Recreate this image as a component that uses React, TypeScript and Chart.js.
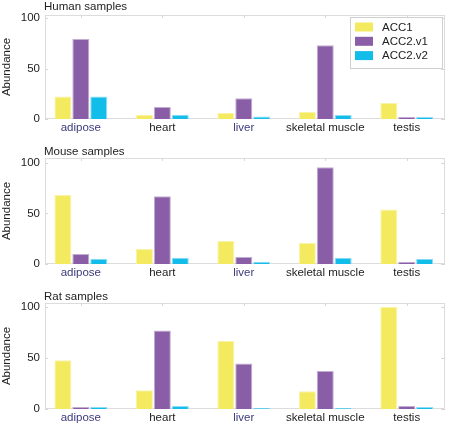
import React, { useEffect, useRef } from "react";
import { Chart, registerables } from "chart.js";
Chart.register(...registerables);

const categories = ["adipose", "heart", "liver", "skeletal muscle", "testis"];
const highlightedCategories = ["adipose", "liver"];
const seriesNames = ["ACC1", "ACC2.v1", "ACC2.v2"];
const seriesColors = ["#f4ea5f", "#8a5ea6", "#12bde9"];
const seriesEdges = ["#f9f3a8", "#c2aed2", "#8fdcf4"];
const yTickValues = [0, 50, 100];

const humanACC1 = [22.4, 4.3, 6.0, 7.0, 15.8];
const humanACC2v1 = [79.5, 11.9, 20.5, 73.3, 2.0];
const humanACC2v2 = [22.4, 4.3, 2.6, 4.0, 2.0];

const mouseACC1 = [68.2, 14.8, 22.6, 20.7, 53.8];
const mouseACC2v1 = [9.8, 66.9, 6.9, 95.4, 2.3];
const mouseACC2v2 = [5.2, 6.2, 2.3, 6.2, 5.2];

const ratACC1 = [47.9, 18.4, 66.6, 17.4, 100];
const ratACC2v1 = [2.0, 77.0, 44.6, 37.4, 3.0];
const ratACC2v2 = [2.0, 3.0, 1.0, 1.0, 2.0];

const FONT = "'Liberation Sans', Arial, sans-serif";
const TEXT = "#222222";
const HILITE = "#3d3a7c";

type PanelProps = {
  title: string;
  series: number[][];
  top: number;
  height: number;
  padTop: number;
  xAxisHeight: number;
  yMax: number;
  showLegend: boolean;
};

function Panel({ title, series, top, height, padTop, xAxisHeight, yMax, showLegend }: PanelProps) {
  const ref = useRef<HTMLCanvasElement | null>(null);
  useEffect(() => {
    if (!ref.current) return;
    const framePlugin = {
      id: "frame",
      beforeDatasetsDraw(chart: any) {
        const { ctx, chartArea: a } = chart;
        ctx.save();
        ctx.strokeStyle = "#dcdcdc";
        ctx.lineWidth = 1;
        ctx.strokeRect(Math.round(a.left) + 0.5, Math.round(a.top) + 0.5, Math.round(a.right - a.left) - 1, Math.round(a.bottom - a.top) - 1);
        const ys = chart.scales.y;
        const xs = chart.scales.x;
        ctx.strokeStyle = "#d6d6d6";
        ctx.beginPath();
        yTickValues.forEach((v) => {
          const py = Math.round(ys.getPixelForValue(v)) + 0.5;
          ctx.moveTo(a.left, py);
          ctx.lineTo(a.left + 3, py);
          ctx.moveTo(a.right, py);
          ctx.lineTo(a.right - 4, py);
        });
        categories.forEach((_, i) => {
          const px = Math.round(xs.getPixelForValue(i + 1)) + 0.5;
          ctx.moveTo(px, a.top);
          ctx.lineTo(px, a.top + 3);
        });
        ctx.stroke();
        ctx.restore();
      },
      afterDraw(chart: any) {
        const { ctx, chartArea: a } = chart;
        ctx.save();
        ctx.fillStyle = TEXT;
        ctx.font = `11.5px ${FONT}`;
        ctx.textBaseline = "alphabetic";
        ctx.textAlign = "left";
        ctx.fillText(title, a.left - 1, 10);
        if (showLegend) {
          const bx = 350.5, by = 17.5, bw = 92, bh = 51;
          ctx.fillStyle = "#ffffff";
          ctx.fillRect(bx, by, bw, bh);
          ctx.strokeStyle = "#cfcfcf";
          ctx.strokeRect(bx, by, bw, bh);
          seriesNames.forEach((name, i) => {
            const cy = by + 9.5 + i * 14.3;
            ctx.fillStyle = seriesColors[i];
            ctx.fillRect(355, cy - 4.5, 18, 9);
            ctx.fillStyle = TEXT;
            ctx.textBaseline = "middle";
            ctx.fillText(name, 382, cy + 0.5);
          });
        }
        ctx.restore();
      },
    };
    const chart = new Chart(ref.current, {
      type: "bar",
      data: {
        datasets: series.map((vals, si) => ({
          label: seriesNames[si],
          data: vals.map((v, i) => ({ x: i + 1, y: v })),
          backgroundColor: seriesColors[si],
          borderColor: seriesEdges[si],
          borderWidth: { top: 1, left: 1, right: 1, bottom: 0 },
          categoryPercentage: 0.66,
          barPercentage: 0.95,
        })),
      },
      options: {
        animation: false,
        responsive: false,
        devicePixelRatio: 1,
        layout: { padding: { top: padTop, left: 0, right: 4, bottom: 0 } },
        plugins: { legend: { display: false }, tooltip: { enabled: false }, title: { display: false } },
        scales: {
          x: {
            type: "linear",
            min: 0.56,
            max: 5.47,
            offset: false,
            grid: { display: false, drawTicks: false },
            border: { display: false },
            afterBuildTicks: (scale: any) => {
              scale.ticks = categories.map((_, i) => ({ value: i + 1 }));
            },
            afterFit: (scale: any) => {
              scale.height = xAxisHeight;
            },
            ticks: {
              autoSkip: false,
              maxRotation: 0,
              padding: 2,
              font: { family: FONT, size: 11.5 },
              color: (ctx: any) => {
                const c = categories[(ctx.tick?.value ?? 0) - 1];
                return highlightedCategories.includes(c) ? HILITE : TEXT;
              },
              callback: (v: any) => categories[Number(v) - 1] ?? "",
            },
          },
          y: {
            type: "linear",
            min: 0,
            max: yMax,
            grid: { display: false, drawTicks: false },
            border: { display: false },
            afterBuildTicks: (scale: any) => {
              scale.ticks = yTickValues.map((v) => ({ value: v }));
            },
            afterFit: (scale: any) => {
              scale.width = 45;
            },
            ticks: {
              padding: 5,
              font: { family: FONT, size: 11.5 },
              color: TEXT,
            },
            title: {
              display: true,
              text: "Abundance",
              padding: { top: 0, bottom: 0, y: 1 },
              font: { family: FONT, size: 11.5 },
              color: TEXT,
            },
          },
        },
      },
      plugins: [framePlugin],
    } as any);
    return () => chart.destroy();
  }, []);
  return (
    <div style={{ position: "absolute", left: 0, top, width: 449, height }}>
      <canvas ref={ref} width={449} height={height} style={{ width: 449, height, display: "block" }} />
    </div>
  );
}

export default function App() {
  return (
    <div style={{ position: "fixed", left: 0, top: 0, width: 449, height: 424, background: "#ffffff", overflow: "hidden" }}>
      <Panel title="Human samples" series={[humanACC1, humanACC2v1, humanACC2v2]} top={0} height={145} padTop={15} xAxisHeight={26} yMax={103.3} showLegend={true} />
      <Panel title="Mouse samples" series={[mouseACC1, mouseACC2v1, mouseACC2v2]} top={145} height={145} padTop={13} xAxisHeight={26} yMax={104.6} showLegend={false} />
      <Panel title="Rat samples" series={[ratACC1, ratACC2v1, ratACC2v2]} top={290} height={134} padTop={13} xAxisHeight={15} yMax={104} showLegend={false} />
    </div>
  );
}
